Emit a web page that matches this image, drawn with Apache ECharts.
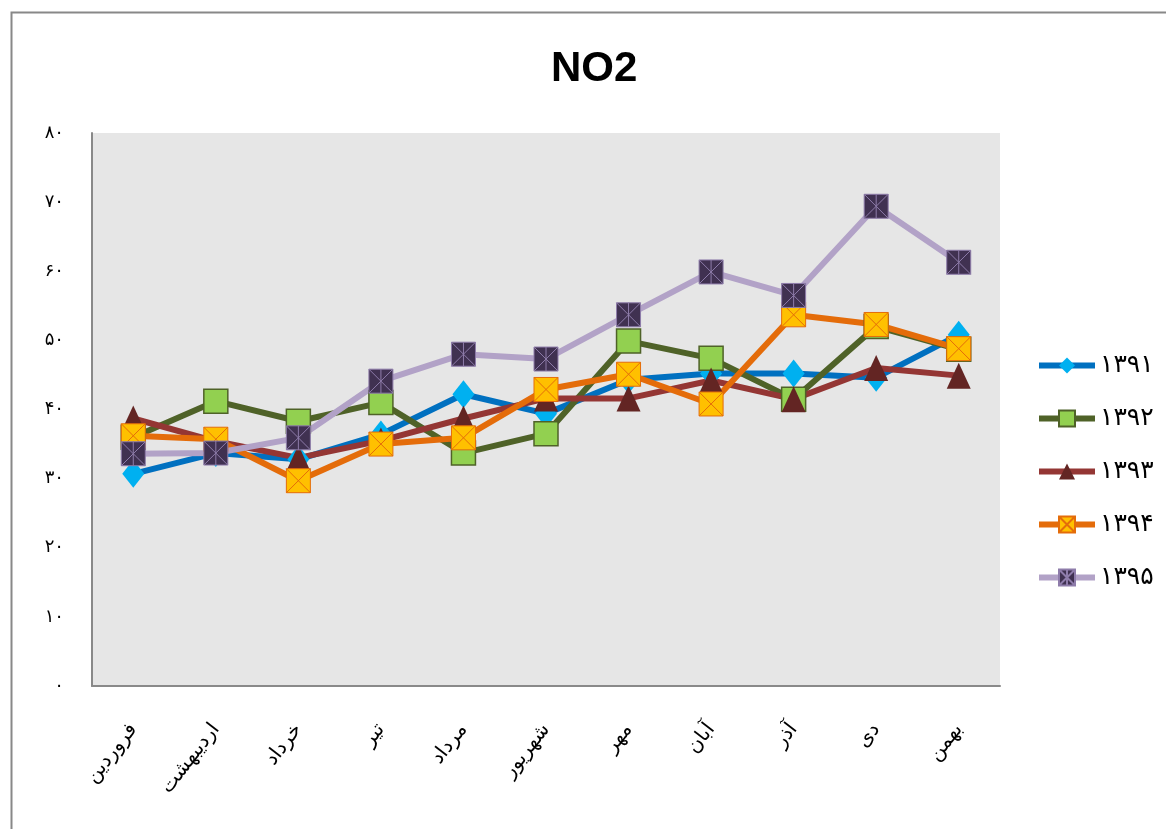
<!DOCTYPE html>
<html>
<head>
<meta charset="utf-8">
<script src="https://cdn.jsdelivr.net/npm/echarts@6/dist/echarts.min.js"></script>
<style>html,body{margin:0;padding:0;background:#fff}#c{width:1166px;height:829px}</style>
</head>
<body>
<div id="c"></div>
<script>
const months = ['فروردین','اردیبهشت','خرداد','تیر','مرداد','شهریور','مهر','آبان','آذر','دی','بهمن'];
const seriesNames = ['۱۳۹۱','۱۳۹۲','۱۳۹۳','۱۳۹۴','۱۳۹۵'];
const yTickLabels = ['۰','۱۰','۲۰','۳۰','۴۰','۵۰','۶۰','۷۰','۸۰'];
const s1391 = [30.7, 33.7, 32.8, 36.4, 42.2, 39.4, 44.3, 45.2, 45.2, 44.6, 50.8];
const s1392 = [36.0, 41.2, 38.3, 41.0, 33.7, 36.5, 49.9, 47.4, 41.5, 52.0, 48.7];
const s1393 = [38.7, 35.4, 33.0, 35.5, 38.7, 41.6, 41.6, 44.2, 41.5, 46.0, 44.9];
const s1394 = [36.2, 35.7, 29.7, 35.0, 35.9, 42.9, 45.1, 40.8, 53.7, 52.3, 48.8];
const s1395 = [33.6, 33.7, 35.9, 44.1, 48.0, 47.3, 53.7, 59.9, 56.5, 69.4, 61.3];

const xSquare = 'path://M0 0H20V20H0Z M0 0L20 20 M20 0L0 20';
const starSquare = 'path://M0 0H20V20H0Z M0 0L20 20 M20 0L0 20 M10 0V20';

const chart = echarts.init(document.getElementById('c'));
chart.setOption({
  backgroundColor: '#ffffff',
  animation: false,
  graphic: [{
    type: 'rect', left: 9, top: 10, silent: true,
    shape: {width: 1300, height: 1000},
    style: {fill: 'none', stroke: '#888888', lineWidth: 2}
  }],
  title: {
    text: 'NO2', left: 546, top: 43,
    textStyle: {fontFamily: 'Liberation Sans', fontWeight: 'bold', fontSize: 42, color: '#000'}
  },
  legend: {
    orient: 'vertical', left: 1031, top: 348,
    itemWidth: 56, itemHeight: 20, itemGap: 28,
    lineStyle: {width: 6},
    textStyle: {fontFamily: 'DejaVu Sans', fontSize: 25, color: '#000'},
    data: seriesNames
  },
  grid: {
    left: 92, right: 166, top: 133, bottom: 143,
    show: true, backgroundColor: '#e6e6e6', borderWidth: 0
  },
  xAxis: {
    type: 'category', data: months, boundaryGap: true,
    axisLine: {lineStyle: {color: '#898989', width: 2}},
    axisTick: {show: false},
    axisLabel: {rotate: 52, margin: 40, fontFamily: 'DejaVu Sans', fontSize: 20, color: '#000', interval: 0}
  },
  yAxis: {
    type: 'value', min: 0, max: 80, interval: 10,
    axisLine: {show: true, lineStyle: {color: '#898989', width: 2}},
    axisTick: {show: false},
    splitLine: {show: false},
    axisLabel: {
      margin: 28, fontFamily: 'DejaVu Sans', fontSize: 18, color: '#000',
      formatter: v => yTickLabels[Math.round(v / 10)]
    }
  },
  series: [
    {name: seriesNames[0], type: 'line', data: s1391, symbol: 'diamond', symbolSize: [22, 28],
     lineStyle: {color: '#0070C0', width: 6}, itemStyle: {color: '#00B0F0', borderWidth: 0}},
    {name: seriesNames[1], type: 'line', data: s1392, symbol: 'rect', symbolSize: 24,
     lineStyle: {color: '#4F6228', width: 6}, itemStyle: {color: '#92D050', borderColor: '#4F6228', borderWidth: 1.5}},
    {name: seriesNames[2], type: 'line', data: s1393, symbol: 'triangle', symbolSize: [24, 26],
     lineStyle: {color: '#943634', width: 6}, itemStyle: {color: '#632523', borderColor: '#632523', borderWidth: 0}},
    {name: seriesNames[3], type: 'line', data: s1394, symbol: xSquare, symbolSize: 24,
     lineStyle: {color: '#E46C0A', width: 6}, itemStyle: {color: '#FFC000', borderColor: '#E46C0A', borderWidth: 1}},
    {name: seriesNames[4], type: 'line', data: s1395, symbol: starSquare, symbolSize: 24,
     lineStyle: {color: '#B2A2C7', width: 6}, itemStyle: {color: '#403151', borderColor: '#8E7CAA', borderWidth: 1}}
  ]
});
</script>
</body>
</html>
